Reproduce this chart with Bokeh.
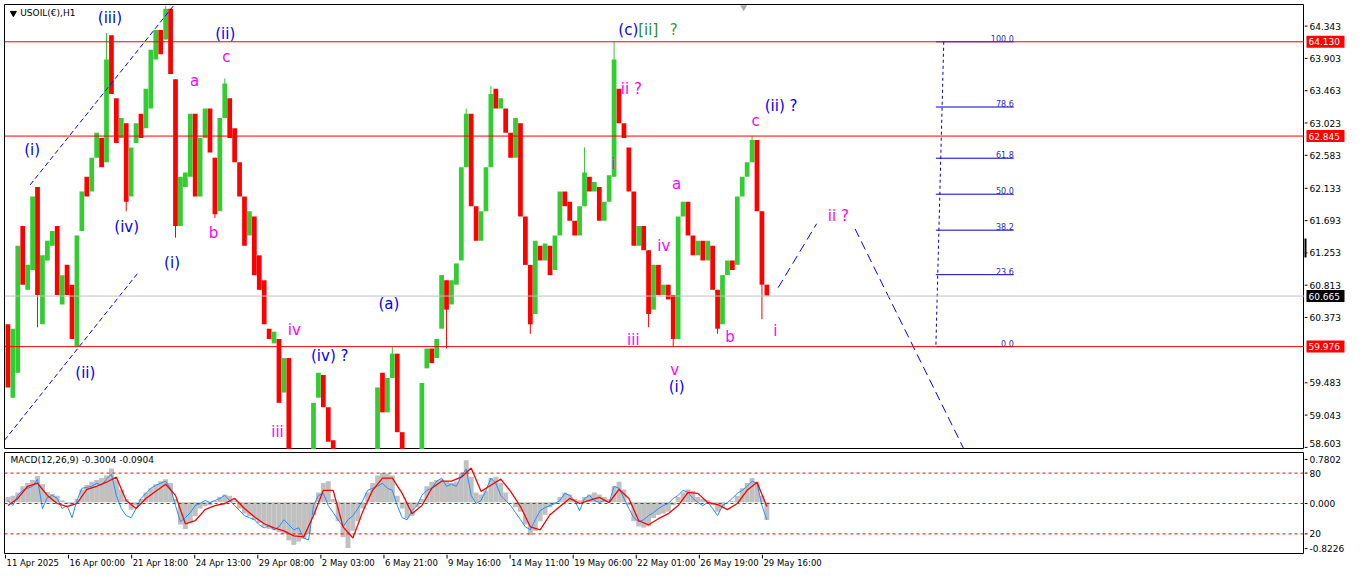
import numpy as np
from bokeh.plotting import figure
from bokeh.models import Range1d, Span
from bokeh.layouts import column, row
from bokeh.embed import file_html
from bokeh.resources import INLINE
from bokeh.core.properties import value

FONT = "DejaVu Sans"

# ---------------- data (USOIL H1, one entry per 5-bar column) ----------------
opens = [
    60.28, 59.28, 59.62, 61.62, 60.75, 61.02, 62.15, 60.28, 61.15, 61.35,
    61.62, 60.55, 61.09, 60.82, 59.98, 61.55, 62.29, 62.09, 62.55, 62.82,
    62.49, 64.22, 63.36, 62.82, 63.02, 62.02, 62.75, 63.15, 62.95, 63.22,
    63.89, 64.29, 64.16, 64.58, 63.62, 61.62, 62.15, 62.29, 63.15, 62.02,
    62.82, 63.22, 62.55, 61.82, 63.09, 63.36, 62.95, 62.49, 62.02, 61.49,
    61.75, 61.22, 60.88, 60.22, 60.02, 60.08, 59.35, 59.82, 58.41, 58.25,
    58.05, 58.15, 58.55, 59.28, 59.59, 59.15, 58.70, 58.40, 58.25, 58.10,
    57.95, 58.00, 58.15, 58.30, 58.40, 58.55, 59.62, 59.08, 59.55, 59.88,
    58.81, 58.45, 58.30, 58.20, 58.48, 59.68, 59.95, 59.82, 60.22, 60.88,
    60.55, 60.82, 61.15, 62.42, 63.15, 61.89, 61.42, 61.82, 62.42, 63.49,
    63.22, 63.22, 62.89, 62.55, 63.02, 61.75, 61.09, 60.42, 61.35, 61.15,
    61.35, 61.02, 61.49, 62.09, 61.95, 61.69, 61.49, 61.89, 62.29, 62.09,
    62.15, 61.69, 61.95, 62.29, 63.49, 63.02, 62.69, 62.09, 61.35, 61.62,
    61.29, 60.48, 61.09, 60.68, 60.82, 60.68, 60.08, 61.75, 61.95, 61.49,
    61.22, 61.42, 61.15, 61.35, 60.75, 60.28, 60.95, 61.15, 61.09, 62.02,
    62.29, 62.49, 62.79, 61.82, 60.82]
closes = [
    59.42, 60.22, 61.35, 60.82, 61.09, 62.02, 60.68, 61.22, 61.42, 61.55,
    60.68, 60.95, 60.68, 60.08, 61.49, 62.09, 62.02, 62.55, 62.89, 62.42,
    63.89, 63.42, 62.75, 63.09, 61.95, 62.69, 63.02, 62.82, 63.49, 64.02,
    64.29, 63.96, 64.58, 63.69, 61.62, 62.29, 62.35, 63.15, 62.02, 62.82,
    63.22, 62.62, 61.78, 63.09, 63.56, 62.82, 62.49, 62.02, 61.35, 61.82,
    60.95, 60.75, 60.28, 60.08, 60.18, 59.21, 59.82, 58.41, 58.20, 58.05,
    58.15, 58.45, 59.21, 59.62, 59.15, 58.68, 58.40, 58.25, 58.10, 57.95,
    58.00, 58.15, 58.30, 58.40, 58.50, 59.42, 59.08, 59.55, 59.88, 58.81,
    58.45, 58.30, 58.20, 58.40, 59.48, 59.95, 59.75, 60.08, 60.95, 60.48,
    60.88, 61.11, 62.42, 63.15, 61.89, 61.42, 61.82, 62.42, 63.42, 63.22,
    63.36, 62.89, 62.55, 63.09, 61.75, 61.09, 60.28, 61.42, 61.15, 61.38,
    60.95, 61.49, 62.09, 61.89, 61.69, 61.49, 61.89, 62.35, 62.09, 62.22,
    61.69, 61.95, 62.31, 63.89, 63.02, 62.82, 62.09, 61.35, 61.62, 61.29,
    60.42, 61.09, 60.68, 60.82, 60.62, 60.08, 61.75, 61.95, 61.49, 61.22,
    61.42, 61.15, 61.42, 60.75, 60.22, 60.95, 61.15, 61.02, 62.02, 62.29,
    62.49, 62.79, 61.82, 60.82, 60.67]
wick_idx = [6, 14, 20, 24, 32, 34, 42, 44, 78, 89, 93, 98, 106, 117, 123, 130, 135, 144, 151, 153]
wick_hi = [62.15, 61.49, 64.25, 63.02, 64.62, 63.62, 62.55, 63.63, 59.98, 60.88,
           63.22, 63.53, 61.09, 62.69, 64.13, 61.29, 60.68, 60.75, 62.85, 61.82]
wick_lo = [60.24, 59.98, 62.49, 61.82, 64.16, 61.46, 61.73, 63.09, 59.55, 59.95,
           62.42, 62.42, 60.15, 61.89, 62.29, 60.24, 59.976, 60.15, 62.49, 60.35]

macd_hist = [
    0.08, 0.10, 0.15, 0.25, 0.30, 0.35, 0.41, 0.28, 0.16, 0.13,
    0.10, 0.03, -0.02, -0.05, 0.05, 0.20, 0.27, 0.32, 0.35, 0.38,
    0.42, 0.53, 0.35, 0.20, 0.05, -0.12, -0.05, 0.05, 0.15, 0.22,
    0.28, 0.33, 0.36, 0.30, 0.05, -0.35, -0.42, -0.32, -0.22, -0.10,
    -0.06, -0.05, 0.02, 0.08, 0.12, 0.10, 0.02, -0.10, -0.18, -0.22,
    -0.28, -0.33, -0.38, -0.42, -0.44, -0.47, -0.50, -0.60, -0.67, -0.62,
    -0.58, -0.50, -0.20, 0.15, 0.30, 0.33, 0.05, -0.30, -0.55, -0.72,
    -0.45, -0.30, -0.10, 0.15, 0.30, 0.42, 0.46, 0.45, 0.42, 0.10,
    -0.10, -0.25, -0.22, -0.08, 0.05, 0.25, 0.32, 0.35, 0.36, 0.33,
    0.30, 0.32, 0.45, 0.66, 0.40, 0.15, 0.12, 0.18, 0.38, 0.40,
    0.30, 0.15, 0.00, -0.08, -0.15, -0.35, -0.52, -0.45, -0.30, -0.20,
    -0.08, -0.03, 0.08, 0.15, 0.12, 0.05, 0.03, 0.08, 0.12, 0.15,
    0.12, 0.08, 0.05, 0.25, 0.32, 0.20, -0.05, -0.30, -0.38, -0.40,
    -0.38, -0.25, -0.20, -0.18, -0.15, -0.05, 0.08, 0.15, 0.20, 0.18,
    0.08, 0.05, 0.03, -0.05, -0.15, -0.10, 0.00, 0.02, 0.10, 0.22,
    0.30, 0.38, 0.32, 0.10, -0.28]
osc_blue = [
    53, 48, 58, 63, 65, 67, 74, 45, 56, 58,
    55, 45, 48, 36, 53, 65, 66, 67, 70, 68,
    74, 79, 58, 45, 38, 36, 45, 55, 60, 65,
    68, 70, 72, 65, 48, 32, 36, 41, 48, 50,
    53, 51, 53, 55, 58, 53, 48, 43, 38, 36,
    34, 29, 26, 28, 24, 27, 34, 29, 24, 26,
    16, 14, 48, 58, 60, 48, 41, 34, 27, 34,
    38, 45, 53, 63, 65, 67, 70, 65, 63, 48,
    36, 34, 43, 48, 58, 63, 65, 72, 75, 67,
    69, 67, 77, 84, 58, 50, 53, 63, 75, 70,
    58, 53, 48, 41, 34, 27, 24, 34, 43, 46,
    48, 50, 53, 60, 58, 53, 43, 55, 58, 53,
    51, 53, 51, 67, 65, 55, 45, 36, 32, 34,
    38, 41, 45, 48, 50, 55, 58, 63, 61, 55,
    51, 48, 51, 45, 38, 48, 51, 55, 60, 63,
    67, 72, 70, 48, 34]
# signal line, every second column
osc_red = [
    48, 55, 67, 70, 58, 50, 47, 50, 64, 67,
    71, 76, 53, 45, 55, 62, 69, 58, 30, 33,
    44, 48, 50, 55, 45, 37, 30, 26, 23, 18,
    17, 38, 63, 63, 27, 16, 42, 63, 75, 75,
    60, 40, 48, 65, 72, 72, 76, 85, 62, 68,
    74, 62, 47, 27, 24, 39, 47, 55, 50, 53,
    56, 51, 64, 55, 33, 29, 35, 40, 48, 61,
    60, 51, 49, 44, 50, 63, 71, 47]

time_labels = ["11 Apr 2025", "16 Apr 00:00", "21 Apr 18:00", "24 Apr 13:00", "29 Apr 08:00",
               "2 May 03:00", "6 May 21:00", "9 May 16:00", "14 May 11:00", "19 May 06:00",
               "22 May 01:00", "26 May 19:00", "29 May 16:00"]
price_ticks = [64.343, 63.903, 63.463, 63.023, 62.583, 62.133, 61.693, 61.253,
               60.813, 60.373, 59.483, 59.043, 58.603]
red_levels = [64.130, 62.845, 59.976]
last_price = 60.665
fib_high, fib_low = 64.130, 59.976
fib_ratios = [0.0, 23.6, 38.2, 50.0, 61.8, 78.6, 100.0]
osc_levels = [80, 50, 20]
macd_tick_pos = [93.5, 80, 50, 20, 5.5]
macd_tick_labels = ["0.7802", "80", "0.000", "20", "-0.8226"]

# ---------------- geometry ----------------
BARS_PER_COL = 5
n = len(opens)
xc = np.arange(n) * BARS_PER_COL + 3.5
o = np.array(opens)
c = np.array(closes)
GREEN = "#32cd32"
RED = "#ff0000"
BLUE = "#0000ff"
cols = [GREEN if cc > oo else RED for oo, cc in zip(o, c)]
XMAX = 1319
MAIN_W = 1304
AX_W = 46
TXT = dict(text_font=value(FONT), text_font_size="9px", text_color="black")


def strip(height, y_range, top):
    f = figure(width=AX_W, height=height, x_range=Range1d(0, AX_W), y_range=y_range,
               output_backend="svg", toolbar_location=None, x_axis_location=None,
               y_axis_location=None, min_border_left=0, min_border_right=0,
               min_border_top=top, min_border_bottom=0, background_fill_color="white",
               border_fill_color="white")
    f.grid.visible = False
    f.outline_line_color = None
    return f


# ---------------- price panel ----------------
p = figure(width=MAIN_W, height=449, x_range=Range1d(0, XMAX), y_range=Range1d(58.574, 64.638),
           output_backend="svg", toolbar_location=None, x_axis_location=None,
           y_axis_location=None, min_border_left=4, min_border_right=0,
           min_border_top=4, min_border_bottom=0,
           background_fill_color="white", border_fill_color="white")
p.grid.visible = False
p.outline_line_color = "black"

for lv in red_levels:
    p.add_layout(Span(location=lv, dimension="width", line_color=RED, line_width=1))
p.add_layout(Span(location=last_price, dimension="width", line_color="#c0c0c0", line_width=1))

# candles
p.vbar(x=xc, top=np.maximum(o, c), bottom=np.minimum(o, c), width=4.8,
       fill_color=cols, line_color=None)
wx = [xc[i] for i in wick_idx]
wc = [cols[i] for i in wick_idx]
p.segment(x0=wx, y0=wick_lo, x1=wx, y1=wick_hi, line_color=wc, line_width=1)

# channel and projection (dashed blue)
p.line([26, 175], [62.18, 64.68], line_color=BLUE, line_width=1, line_dash="5 3")
p.line([0, 136], [58.70, 60.99], line_color=BLUE, line_width=1, line_dash="5 3")
p.line([785, 824], [60.78, 61.65], line_color=BLUE, line_width=1, line_dash="9 5")
p.line([863, 990], [61.58, 58.13], line_color=BLUE, line_width=1, line_dash="9 5")

# fibonacci retracement
FIB_X0, FIB_X1 = 945, 1024
fib_prices = [fib_low + r / 100.0 * (fib_high - fib_low) for r in fib_ratios]
p.segment(x0=[FIB_X0] * len(fib_prices), y0=fib_prices, x1=[FIB_X1] * len(fib_prices),
          y1=fib_prices, line_color="#0000cd", line_width=1)
p.line([953, 945], [fib_high, fib_low], line_color="#0000cd", line_width=1, line_dash="3 3")
p.text(x=[FIB_X1] * len(fib_prices), y=fib_prices, text=[f"{r:.1f}" for r in fib_ratios],
       text_align="right", text_baseline="bottom", text_color="#2a2ac8",
       text_font=value(FONT), text_font_size="8px")

# wave labels
blue_texts = ["(iii)", "(ii)", "(i)", "(iv)", "(i)", "(ii)", "(iv) ?", "(a)", "(i)", "(ii) ?"]
blue_x = [107, 224, 28, 124, 170, 82, 330, 390, 682, 788]
blue_y = [64.46, 64.24, 62.65, 61.61, 61.12, 59.62, 59.85, 60.55, 59.43, 63.25]
mag_texts = ["c", "a", "b", "iv", "iii", "ii ?", "i", "a", "iv", "iii", "v", "b", "c", "i", "ii ?"]
mag_x = [225, 193, 212, 294, 277, 636, 618, 682, 669, 638, 680, 736, 762, 782, 846]
mag_y = [63.92, 63.60, 61.52, 60.20, 58.81, 63.48, 62.46, 62.19, 61.35, 60.07, 59.66,
         60.11, 63.05, 60.19, 61.75]
WAVE = dict(text_font=value(FONT), text_font_size="15px", text_baseline="middle")
p.text(x=blue_x, y=blue_y, text=blue_texts, text_align="center", text_color=BLUE, **WAVE)
p.text(x=mag_x, y=mag_y, text=mag_texts, text_align="center", text_color="#ff00ff", **WAVE)
p.text(x=[643], y=[64.29], text=["(c)"], text_align="right", text_color=BLUE, **WAVE)
p.text(x=[643], y=[64.29], text=["[ii]"], text_align="left", text_color="#2e8b2e", **WAVE)
p.text(x=[679], y=[64.29], text=["?"], text_align="center", text_color="#3a9a3a", **WAVE)

# title
p.scatter(x=[9], y=[64.52], marker="inverted_triangle", size=6, fill_color="black",
          line_color="black")
p.text(x=[16], y=[64.52], text=["USOIL(€),H1"], text_align="left", text_baseline="middle", **TXT)
p.scatter(x=[750], y=[64.60], marker="inverted_triangle", size=7, fill_color="#a9a9a9",
          line_color=None)

# price scale strip
pr = strip(449, p.y_range, 4)
pr.segment(x0=[0] * len(price_ticks), y0=price_ticks, x1=[3] * len(price_ticks),
           y1=price_ticks, line_color="black", line_width=1)
pr.text(x=[5] * (len(price_ticks) - 1), y=price_ticks[:-1],
        text=[f"{t:.3f}" for t in price_ticks[:-1]], text_align="left",
        text_baseline="middle", **TXT)
pr.text(x=[5], y=[price_ticks[-1]], text=[f"{price_ticks[-1]:.3f}"], text_align="left",
        text_baseline="bottom", **TXT)
box_levels = red_levels + [last_price]
box_colors = [RED, RED, RED, "black"]
pr.rect(x=[21] * 4, y=box_levels, width=38, height=12, height_units="screen",
        fill_color=box_colors, line_color=None)
pr.text(x=[4] * 4, y=box_levels, text=[f"{v:.3f}" for v in box_levels], text_align="left",
        text_baseline="middle", text_font=value(FONT), text_font_size="9px", text_color="white")
pr.segment(x0=[0.5], y0=[61.19], x1=[0.5], y1=[61.45], line_color="black", line_width=3)

# ---------------- MACD panel ----------------
p2 = figure(width=MAIN_W, height=105, x_range=p.x_range, y_range=Range1d(-0.32, 100.32),
            output_backend="svg", toolbar_location=None, x_axis_location=None,
            y_axis_location=None, min_border_left=4, min_border_right=0, min_border_top=3,
            min_border_bottom=0, background_fill_color="white", border_fill_color="white")
p2.extra_y_ranges = {"macd": Range1d(-0.8226, 0.7802)}
p2.grid.visible = False
p2.outline_line_color = "black"

p2.vbar(x=xc, top=macd_hist, bottom=0, width=BARS_PER_COL, y_range_name="macd",
        fill_color="#c0c0c0", line_color=None)
for lv in osc_levels:
    p2.add_layout(Span(location=lv, dimension="width", line_color=RED, line_width=1,
                       line_dash="3 3"))
p2.line(xc, osc_blue, line_color="#1e90ff", line_width=1)
p2.line(xc[::2], osc_red, line_color=RED, line_width=1.3)
p2.text(x=[6], y=[92.6], text=["MACD(12,26,9) -0.3004 -0.0904"], text_align="left",
        text_baseline="middle", **TXT)

p2r = strip(105, p2.y_range, 3)
p2r.segment(x0=[0] * len(macd_tick_pos), y0=macd_tick_pos, x1=[3] * len(macd_tick_pos),
            y1=macd_tick_pos, line_color="black", line_width=1)
p2r.text(x=[5] * len(macd_tick_pos), y=macd_tick_pos, text=macd_tick_labels,
         text_align="left", text_baseline="middle", **TXT)

# ---------------- time scale strip ----------------
p3 = figure(width=MAIN_W + AX_W, height=18, x_range=p.x_range, y_range=Range1d(18, 0),
            output_backend="svg", toolbar_location=None, x_axis_location=None,
            y_axis_location=None, min_border_left=4, min_border_right=AX_W, min_border_top=0,
            min_border_bottom=0, background_fill_color="white", border_fill_color="white")
p3.grid.visible = False
p3.outline_line_color = None
tick_bars = [1 + 64 * k for k in range(len(time_labels))]
p3.segment(x0=tick_bars, y0=[0] * len(tick_bars), x1=tick_bars, y1=[4] * len(tick_bars),
           line_color="black", line_width=1)
p3.text(x=[t + 1 for t in tick_bars], y=[3] * len(tick_bars), text=time_labels,
        text_align="left", text_baseline="top", text_font=value(FONT),
        text_font_size="8.5px", text_color="black")

layout = column(row(p, pr, spacing=0), row(p2, p2r, spacing=0), p3, spacing=0)
open("out.html", "w").write(file_html(layout, INLINE))
